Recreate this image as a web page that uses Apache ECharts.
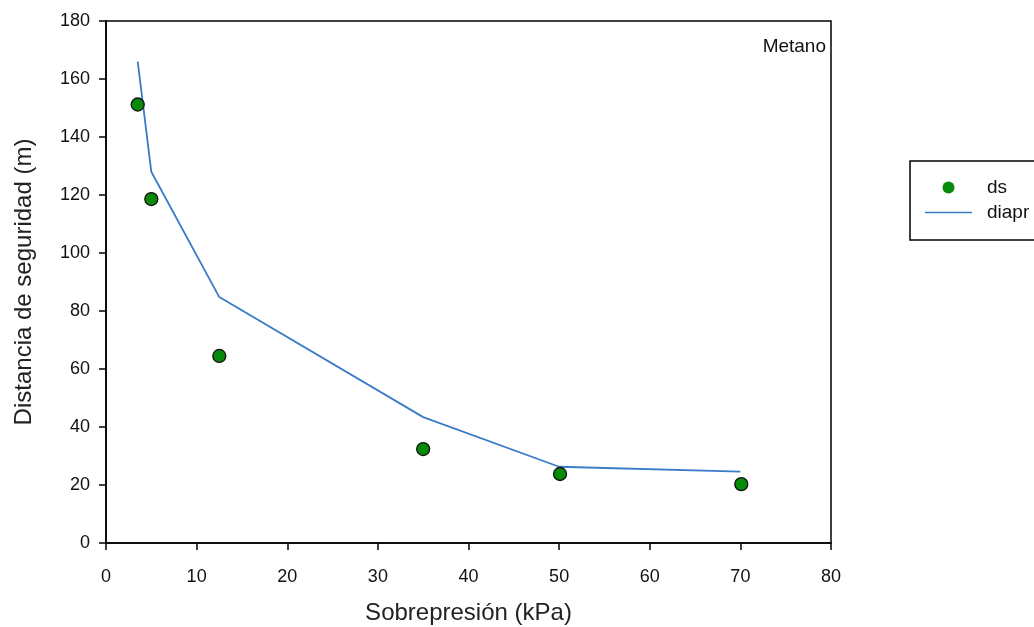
<!DOCTYPE html>
<html>
<head>
<meta charset="utf-8">
<script src="https://cdn.jsdelivr.net/npm/echarts@6/dist/echarts.min.js"></script>
<style>html,body{margin:0;padding:0;background:#fff}#c{width:1034px;height:627px}</style>
</head>
<body>
<div id="c"></div>
<script>
const dsX = [3.5, 5.0, 12.5, 35.0, 50.1, 70.1];
const dsY = [151.2, 118.6, 64.5, 32.4, 23.8, 20.3];
const diaprX = [3.5, 5.0, 12.5, 35.0, 50.0, 70.0];
const diaprY = [166, 128, 84.8, 43.4, 26.3, 24.6];
const xTicks = [0, 10, 20, 30, 40, 50, 60, 70, 80];
const yTicks = [0, 20, 40, 60, 80, 100, 120, 140, 160, 180];

const chart = echarts.init(document.getElementById('c'), null, {renderer: 'canvas'});
const font = 'Liberation Sans, Arial, sans-serif';
chart.setOption({
  animation: false,
  textStyle: {fontFamily: font},
  grid: {left: 106, right: 203, top: 21, bottom: 84, containLabel: false, outerBoundsMode: 'none',
         show: true, borderColor: '#000', borderWidth: 1.5, backgroundColor: 'transparent'},
  xAxis: {
    type: 'value', min: 0, max: 80, interval: 10,
    name: 'Sobrepresión (kPa)', nameLocation: 'middle', nameGap: 58,
    nameTextStyle: {fontSize: 24, color: '#222', fontFamily: font},
    axisLine: {show: true, onZero: false, lineStyle: {color: '#000', width: 1.5}},
    axisTick: {show: true, inside: false, length: 7, lineStyle: {color: '#000', width: 1.5}},
    axisLabel: {fontSize: 18, color: '#111', margin: 25, fontFamily: font},
    splitLine: {show: false}
  },
  yAxis: {
    type: 'value', min: 0, max: 180, interval: 20,
    name: 'Distancia de seguridad (m)', nameLocation: 'middle', nameGap: 70,
    nameTextStyle: {fontSize: 24, color: '#222', fontFamily: font},
    axisLine: {show: true, onZero: false, lineStyle: {color: '#000', width: 1.5}},
    axisTick: {show: true, inside: false, length: 7, lineStyle: {color: '#000', width: 1.5}},
    axisLabel: {fontSize: 18, color: '#111', margin: 16, fontFamily: font},
    splitLine: {show: false}
  },
  legend: {
    orient: 'vertical', left: 910, top: 161,
    padding: [17, 60, 18, 15],
    borderColor: '#000', borderWidth: 1.5,
    itemWidth: 47, itemHeight: 12, itemGap: 6,
    symbolKeepAspect: true,
    textStyle: {fontSize: 19, color: '#111', fontFamily: font, padding: [0, 0, 0, 10]},
    data: [
      {name: 'ds', icon: 'circle', itemStyle: {color: '#078a07', borderWidth: 0}},
      {name: 'diapr', icon: 'path://M0,0L47,0L47,1.6L0,1.6Z', itemStyle: {color: '#3a7bc8', borderWidth: 0}}
    ]
  },
  graphic: [{
    type: 'text', right: 208, top: 37,
    style: {text: 'Metano', fontSize: 19, fill: '#111', fontFamily: font}
  }],
  series: [
    {
      name: 'diapr', type: 'line', symbol: 'none',
      lineStyle: {color: '#3a7bc8', width: 1.8},
      itemStyle: {color: '#3a7bc8'},
      data: diaprX.map((x, i) => [x, diaprY[i]]),
      z: 2
    },
    {
      name: 'ds', type: 'scatter', symbol: 'circle', symbolSize: 13,
      itemStyle: {color: '#078a07', borderColor: '#111', borderWidth: 1.3, opacity: 1},
      data: dsX.map((x, i) => [x, dsY[i]]),
      z: 3
    }
  ]
});
</script>
</body>
</html>
